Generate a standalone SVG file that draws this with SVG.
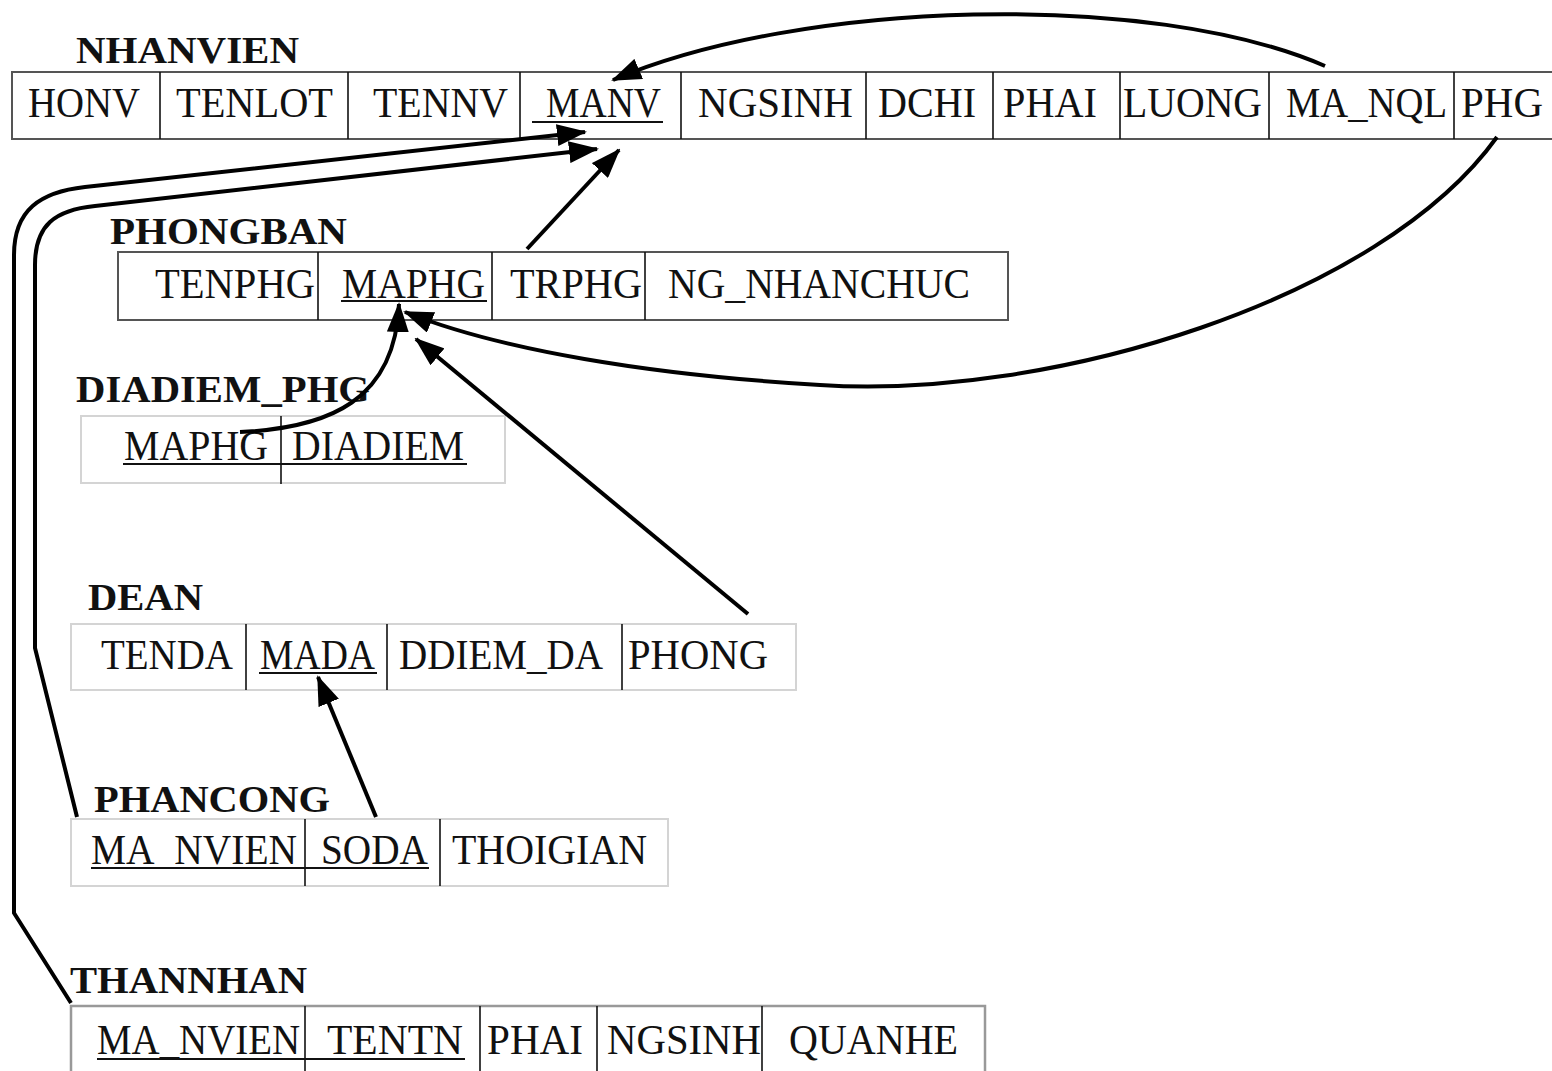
<svg xmlns="http://www.w3.org/2000/svg" width="1552" height="1071" viewBox="0 0 1552 1071">
<style>
.t{font-family:"Liberation Serif","DejaVu Serif",serif;font-size:42px;fill:#111}
.h{font-family:"Liberation Serif","DejaVu Serif",serif;font-size:38px;font-weight:bold;fill:#111}
.box{fill:none;stroke:#555;stroke-width:2}
.lbox{fill:none;stroke:#d4d4d4;stroke-width:2}
.div{stroke:#111;stroke-width:1.6}
.ul{stroke:#111;stroke-width:2}
.c{fill:none;stroke:#000;stroke-width:4;marker-end:url(#ah)}
</style>
<defs>
<marker id="ah" markerUnits="userSpaceOnUse" viewBox="0 0 30 22" refX="28" refY="11" markerWidth="30" markerHeight="22" orient="auto">
<path d="M0,0 L30,11 L0,22 Z" fill="#000"/>
</marker>
</defs>
<rect width="1552" height="1071" fill="#fff"/>

<g id="nhanvien">
<text class="h" x="76" y="63" textLength="223" lengthAdjust="spacingAndGlyphs">NHANVIEN</text>
<rect class="box" x="12" y="72" width="1560" height="67"/>
<line class="div" x1="160" y1="72" x2="160" y2="139"/>
<line class="div" x1="348" y1="72" x2="348" y2="139"/>
<line class="div" x1="520" y1="72" x2="520" y2="139"/>
<line class="div" x1="681" y1="72" x2="681" y2="139"/>
<line class="div" x1="866" y1="72" x2="866" y2="139"/>
<line class="div" x1="993" y1="72" x2="993" y2="139"/>
<line class="div" x1="1120" y1="72" x2="1120" y2="139"/>
<line class="div" x1="1269" y1="72" x2="1269" y2="139"/>
<line class="div" x1="1454" y1="72" x2="1454" y2="139"/>
<text class="t" x="28" y="117" textLength="112" lengthAdjust="spacingAndGlyphs">HONV</text>
<text class="t" x="176" y="117" textLength="157" lengthAdjust="spacingAndGlyphs">TENLOT</text>
<text class="t" x="373" y="117" textLength="135" lengthAdjust="spacingAndGlyphs">TENNV</text>
<text class="t" x="546" y="117" textLength="115" lengthAdjust="spacingAndGlyphs">MANV</text>
<line class="ul" x1="532" y1="122" x2="663" y2="122"/>
<text class="t" x="698" y="117" textLength="155" lengthAdjust="spacingAndGlyphs">NGSINH</text>
<text class="t" x="878" y="117" textLength="98" lengthAdjust="spacingAndGlyphs">DCHI</text>
<text class="t" x="1003" y="117" textLength="94" lengthAdjust="spacingAndGlyphs">PHAI</text>
<text class="t" x="1123" y="117" textLength="139" lengthAdjust="spacingAndGlyphs">LUONG</text>
<text class="t" x="1286" y="117" textLength="161" lengthAdjust="spacingAndGlyphs">MA_NQL</text>
<text class="t" x="1461" y="117" textLength="82" lengthAdjust="spacingAndGlyphs">PHG</text>
</g>

<g id="phongban">
<text class="h" x="110" y="244" textLength="237" lengthAdjust="spacingAndGlyphs">PHONGBAN</text>
<rect class="box" x="118" y="252" width="890" height="68"/>
<line class="div" x1="318" y1="252" x2="318" y2="320"/>
<line class="div" x1="492" y1="252" x2="492" y2="320"/>
<line class="div" x1="645" y1="252" x2="645" y2="320"/>
<text class="t" x="155" y="298" textLength="160" lengthAdjust="spacingAndGlyphs">TENPHG</text>
<text class="t" x="342" y="298" textLength="143" lengthAdjust="spacingAndGlyphs">MAPHG</text>
<line class="ul" x1="341" y1="301" x2="487" y2="301"/>
<text class="t" x="510" y="298" textLength="132" lengthAdjust="spacingAndGlyphs">TRPHG</text>
<text class="t" x="668" y="298" textLength="302" lengthAdjust="spacingAndGlyphs">NG_NHANCHUC</text>
</g>

<g id="diadiem_phg">
<text class="h" x="76" y="402" textLength="294" lengthAdjust="spacingAndGlyphs">DIADIEM_PHG</text>
<rect class="lbox" x="81" y="416" width="424" height="67"/>
<line class="div" x1="281" y1="416" x2="281" y2="484"/>
<text class="t" x="124" y="460" textLength="144" lengthAdjust="spacingAndGlyphs">MAPHG</text>
<text class="t" x="292" y="460" textLength="172" lengthAdjust="spacingAndGlyphs">DIADIEM</text>
<line class="ul" x1="123" y1="464" x2="467" y2="464"/>
</g>

<g id="dean">
<text class="h" x="88" y="610" textLength="115" lengthAdjust="spacingAndGlyphs">DEAN</text>
<rect class="lbox" x="71" y="624" width="725" height="66"/>
<line class="div" x1="246" y1="624" x2="246" y2="690"/>
<line class="div" x1="387" y1="624" x2="387" y2="690"/>
<line class="div" x1="622" y1="624" x2="622" y2="690"/>
<text class="t" x="101" y="669" textLength="132" lengthAdjust="spacingAndGlyphs">TENDA</text>
<text class="t" x="260" y="669" textLength="115" lengthAdjust="spacingAndGlyphs">MADA</text>
<line class="ul" x1="259" y1="673" x2="377" y2="673"/>
<text class="t" x="399" y="669" textLength="204" lengthAdjust="spacingAndGlyphs">DDIEM_DA</text>
<text class="t" x="628" y="669" textLength="140" lengthAdjust="spacingAndGlyphs">PHONG</text>
</g>

<g id="phancong">
<text class="h" x="94" y="812" textLength="236" lengthAdjust="spacingAndGlyphs">PHANCONG</text>
<rect class="lbox" x="71" y="819" width="597" height="67"/>
<line class="div" x1="305" y1="819" x2="305" y2="886"/>
<line class="div" x1="440" y1="819" x2="440" y2="886"/>
<text class="t" x="91" y="864" textLength="206" lengthAdjust="spacingAndGlyphs">MA_NVIEN</text>
<text class="t" x="321" y="864" textLength="107" lengthAdjust="spacingAndGlyphs">SODA</text>
<line class="ul" x1="91" y1="868" x2="429" y2="868"/>
<text class="t" x="452" y="864" textLength="195" lengthAdjust="spacingAndGlyphs">THOIGIAN</text>
</g>

<g id="thannhan">
<text class="h" x="70" y="993" textLength="237" lengthAdjust="spacingAndGlyphs">THANNHAN</text>
<rect x="71" y="1006" width="914" height="80" fill="none" stroke="#999" stroke-width="2.5"/>
<line class="div" x1="305" y1="1006" x2="305" y2="1071"/>
<line class="div" x1="480" y1="1006" x2="480" y2="1071"/>
<line class="div" x1="597" y1="1006" x2="597" y2="1071"/>
<line class="div" x1="762" y1="1006" x2="762" y2="1071"/>
<text class="t" x="97" y="1054" textLength="203" lengthAdjust="spacingAndGlyphs">MA_NVIEN</text>
<text class="t" x="327" y="1054" textLength="136" lengthAdjust="spacingAndGlyphs">TENTN</text>
<line class="ul" x1="97" y1="1059" x2="465" y2="1059"/>
<text class="t" x="487" y="1054" textLength="96" lengthAdjust="spacingAndGlyphs">PHAI</text>
<text class="t" x="607" y="1054" textLength="154" lengthAdjust="spacingAndGlyphs">NGSINH</text>
<text class="t" x="789" y="1054" textLength="169" lengthAdjust="spacingAndGlyphs">QUANHE</text>
</g>

<g id="connectors">
<path class="c" d="M1325,66 C1150,-10 800,0 613,80"/>
<path class="c" d="M1497,137 C1380,300 1050,400 820,385 C650,375 500,350 405,312"/>
<path class="c" d="M527,249 L619,150"/>
<path class="c" d="M240,432 C330,428 395,400 399,304"/>
<path class="c" d="M748,614 L416,339"/>
<path class="c" d="M376,817 L318,677"/>
<path class="c" d="M77,817 L35,648 L35,265 C35,225 55,210 95,206 L597,149"/>
<path class="c" d="M71,1003 L14,913 L14,255 C14,210 40,192 85,187 L585,132"/>
</g>
</svg>
